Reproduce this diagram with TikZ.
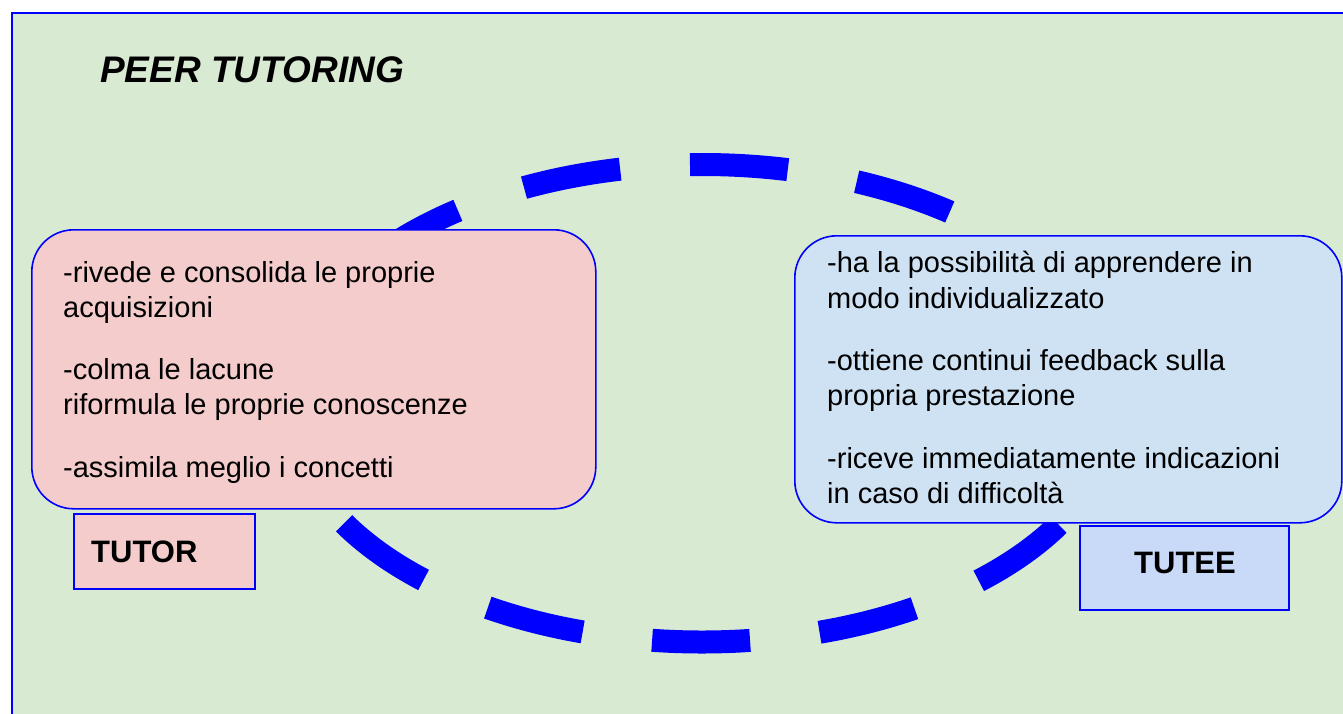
\documentclass[tikz,border=0pt]{standalone}
\usepackage{fontspec}
\setmainfont{Liberation Sans}
\definecolor{bggreen}{HTML}{D9EAD3}
\definecolor{tutorpink}{HTML}{F4CCCC}
\definecolor{tuteeblue}{HTML}{CFE2F3}
\definecolor{tagblue}{HTML}{C9DAF8}
\definecolor{edgeblue}{HTML}{0000FF}
\begin{document}
\begin{tikzpicture}[x=1pt, y=-1pt,
    card/.style={draw=edgeblue, line width=1.6pt, rounded corners=42pt, anchor=north west, inner sep=0pt},
    tag/.style={draw=edgeblue, line width=2pt, anchor=north west, inner sep=0pt},
    item/.style={anchor=base west, inner sep=0pt, font=\fontsize{29}{35}\selectfont},
    tagtext/.style={anchor=base west, inner sep=0pt, font=\fontsize{31}{37}\selectfont\bfseries}]
  \useasboundingbox (0,0) rectangle (1343,713);
  \clip (0,0) rectangle (1343,713);
  \draw[edgeblue, line width=2pt, fill=bggreen] (12,13) rectangle (1360,730);
  \node[anchor=base west, inner sep=0pt, font=\fontsize{37}{44}\selectfont\bfseries\itshape] (title) at (100,82) {PEER TUTORING};
  % the dashed ring, starting on its left side
  \draw[edgeblue, line width=23pt, dash pattern=on 98pt off 70pt, dash phase=162pt] (288,403.25) arc[start angle=180, end angle=540, x radius=414, y radius=238.75];
  \node[card, fill=tutorpink, minimum width=564pt, minimum height=279pt] (tutorbox) at (31,229) {};
  \node[card, fill=tuteeblue, minimum width=547pt, minimum height=287pt] (tuteebox) at (794,235) {};
  \node[item] (a1) at (63,282) {-rivede e consolida le proprie};
  \node[item] (a2) at (63,317) {acquisizioni};
  \node[item] (a3) at (63,379) {-colma le lacune};
  \node[item] (a4) at (63,414) {riformula le proprie conoscenze};
  \node[item] (a5) at (63,477) {-assimila meglio i concetti};
  \node[item] (b1) at (827,272) {-ha la possibilità di apprendere in};
  \node[item] (b2) at (827,308) {modo individualizzato};
  \node[item] (b3) at (827,370) {-ottiene continui feedback sulla};
  \node[item] (b4) at (827,405) {propria prestazione};
  \node[item] (b5) at (827,468) {-riceve immediatamente indicazioni};
  \node[item] (b6) at (827,503) {in caso di difficoltà};
  \node[tag, fill=tutorpink, minimum width=181pt, minimum height=75pt] (tutortag) at (73,513) {};
  \node[tag, fill=tagblue, minimum width=209pt, minimum height=84pt] (tuteetag) at (1079,525) {};
  \node[tagtext] (tutor) at (91,562) {TUTOR};
  \node[tagtext] (tutee) at (1134,573) {TUTEE};
\end{tikzpicture}
\end{document}
